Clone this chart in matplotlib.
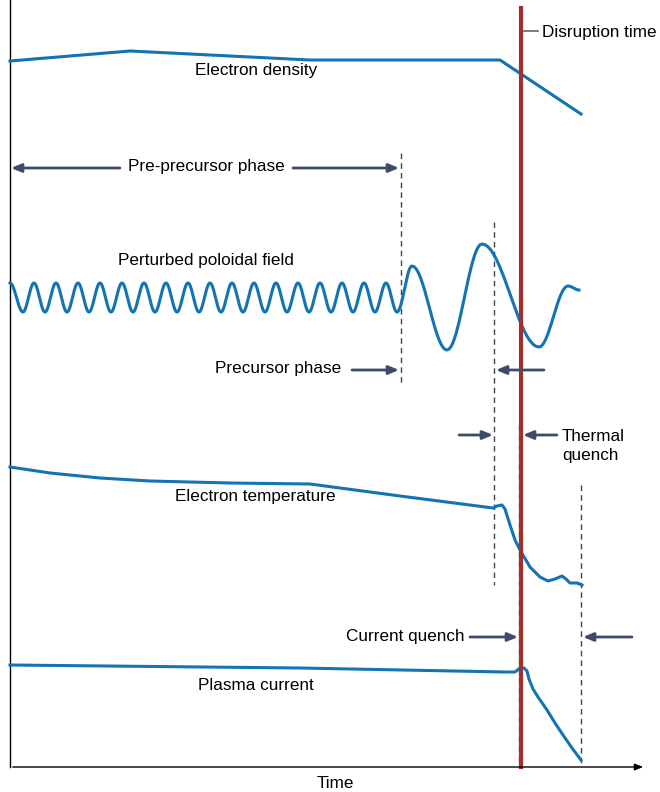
import matplotlib
matplotlib.use('Agg')

import matplotlib.pyplot as plt
import numpy as np

plt.rcParams['font.family'] = ['Liberation Sans', 'DejaVu Sans']

# Schematic curves, in picture units (x to the right, y downwards)
density_x = [10, 130, 310, 500, 581]
density_y = [61, 51, 60, 60, 114]

temp_x = [10, 50, 100, 150, 230, 310, 400, 493, 497, 502, 505, 510, 515,
          520, 530, 540, 548, 555, 562, 566, 570, 577, 582]
temp_y = [467, 473, 478, 481, 483, 484, 496, 508, 506, 505, 509, 525, 540,
          550, 567, 577, 581, 579, 576, 579, 583, 583, 585]

current_x = [10, 300, 505, 515, 520, 524, 527, 529, 533, 538, 547, 555,
             563, 572, 581]
current_y = [665, 668, 672, 672, 668, 668, 671, 679, 689, 697, 710, 723,
             735, 748, 760]

# Perturbed poloidal field: extremes (x, y) of the oscillation
field_peak_x = [12 + 22 * k for k in range(18)]
field_trough_x = [23 + 22 * k for k in range(18)]
field_peak_y = 283
field_trough_y = 312
field_late_x = [412, 447, 482, 539, 568, 579]
field_late_y = [266, 350, 244, 347, 286, 290]

disruption_x = 521
dashed_lines = [(401, 153, 383), (494, 222, 585), (581, 485, 767), (519, 425, 767)]

labels = [
    ("Electron density", 256, 71),
    ("Perturbed poloidal field", 206, 261),
    ("Electron temperature", 255, 497),
    ("Plasma current", 256, 686),
]

blue = '#1473b3'
red = '#a3302f'
navy = '#3e4b69'
fs = 12.3


def cosine_path(xs, ys, n=20):
    """Join consecutive extremes with half cosine arcs."""
    px, py = [], []
    for i in range(len(xs) - 1):
        t = np.linspace(0, 1, n)
        w = (1 - np.cos(np.pi * t)) / 2
        px.extend(xs[i] + (xs[i + 1] - xs[i]) * t)
        py.extend(ys[i] + (ys[i + 1] - ys[i]) * w)
    return px, py


fig = plt.figure(figsize=(6.6, 7.92), dpi=100)
ax = fig.add_axes([0, 0, 1, 1])
ax.set_xlim(0, 660)
ax.set_ylim(792, 0)
ax.axis('off')

# axes frame
ax.plot([10, 10], [0, 767], color='black', lw=1)
ax.annotate('', xy=(646, 767), xytext=(10, 767),
            arrowprops=dict(arrowstyle='-|>,head_length=0.5,head_width=0.2',
                            color='black', lw=1))
ax.text(335, 783, 'Time', ha='center', va='center', fontsize=fs)

# dashed markers
for x, y0, y1 in dashed_lines:
    ax.plot([x, x], [y0, y1], color='#444444', lw=1, ls=(0, (4, 3)))

# field oscillation
ex, ey = [], []
for px_, tx_ in zip(field_peak_x, field_trough_x):
    ex += [px_, tx_]
    ey += [field_peak_y, field_trough_y]
ex[0] = 10
ex += field_late_x
ey += field_late_y
fx, fy = cosine_path(ex, ey)

ax.plot(density_x, density_y, color=blue, lw=2.2)
ax.plot(fx, fy, color=blue, lw=2.2)
ax.plot(temp_x, temp_y, color=blue, lw=2.2)
ax.plot(current_x, current_y, color=blue, lw=2.2)

ax.plot([disruption_x, disruption_x], [8, 767], color=red, lw=3)
ax.plot([524, 538], [31, 31], color='#666666', lw=1.2)
ax.text(542, 32, 'Disruption time', ha='left', va='center', fontsize=fs)

for text, x, y in labels:
    ax.text(x, y, text, ha='center', va='center', fontsize=fs)


def arrow(x0, x1, y):
    ax.annotate('', xy=(x1, y), xytext=(x0, y),
                arrowprops=dict(arrowstyle='-|>,head_length=0.6,head_width=0.25',
                                color=navy, lw=2, shrinkA=0, shrinkB=0))


ax.text(206, 166, 'Pre-precursor phase', ha='center', va='center', fontsize=fs)
arrow(120, 11, 168)
arrow(293, 399, 168)

ax.text(278, 369, 'Precursor phase', ha='center', va='center', fontsize=fs)
arrow(352, 399, 370)
arrow(544, 496, 370)

arrow(459, 493, 435)
arrow(557, 523, 435)
ax.text(562, 446, 'Thermal\nquench', ha='left', va='center', fontsize=fs,
        linespacing=1.3)

ax.text(464, 637, 'Current quench', ha='right', va='center', fontsize=fs)
arrow(470, 518, 637)
arrow(632, 583, 637)

plt.savefig('out.png', dpi=100)
